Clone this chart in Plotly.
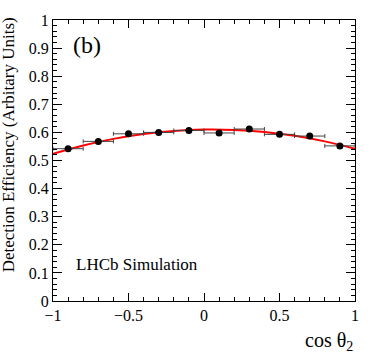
import plotly.graph_objects as go

# Data
bin_centers = [-0.9, -0.7, -0.5, -0.3, -0.1, 0.1, 0.3, 0.5, 0.7, 0.9]
efficiency = [0.542, 0.568, 0.595, 0.600, 0.607, 0.598, 0.612, 0.593, 0.587, 0.552]
x_err = [0.1] * 10
y_err = [0.004] * 10

fit_x = [-1.0, -0.8, -0.6, -0.4, -0.2, 0.0, 0.2, 0.4, 0.6, 0.8, 1.0]
fit_y = [0.524, 0.5535, 0.577, 0.594, 0.605, 0.610, 0.6087, 0.6013, 0.5877, 0.568, 0.542]

x_ticks = [-1, -0.5, 0, 0.5, 1]
x_tick_labels = ["\u22121", "\u22120.5", "0", "0.5", "1"]
y_ticks = [0, 0.1, 0.2, 0.3, 0.4, 0.5, 0.6, 0.7, 0.8, 0.9, 1]
y_tick_labels = ["0", "0.1", "0.2", "0.3", "0.4", "0.5", "0.6", "0.7", "0.8", "0.9", "1"]

FONT = "Liberation Serif"

fig = go.Figure()
fig.add_trace(go.Scatter(
    x=fit_x, y=fit_y, mode="lines", line=dict(color="red", width=2, shape="spline"),
    showlegend=False, hoverinfo="skip"))
fig.add_trace(go.Scatter(
    x=bin_centers, y=efficiency, mode="markers",
    marker=dict(color="black", size=7),
    error_x=dict(type="data", array=x_err, color="#444444", thickness=1, width=2),
    error_y=dict(type="data", array=y_err, color="#444444", thickness=1, width=0),
    showlegend=False))

axis_common = dict(
    showgrid=False, zeroline=False, showline=True, linecolor="black", linewidth=1,
    mirror="allticks", ticks="inside", tickcolor="black",
    tickfont=dict(family=FONT, size=16, color="black"),
)
fig.update_xaxes(range=[-1, 1], tickvals=x_ticks, ticktext=x_tick_labels, ticklen=8,
                 minor=dict(dtick=0.1, tick0=0, ticks="inside", ticklen=4, tickcolor="black"),
                 **axis_common)
fig.update_yaxes(range=[0, 1], tickvals=y_ticks, ticktext=y_tick_labels, ticklen=9,
                 minor=dict(dtick=0.02, tick0=0, ticks="inside", ticklen=4, tickcolor="black"),
                 **axis_common)

fig.add_annotation(text="Detection Efficiency (Arbitary Units)", textangle=-90,
                   xref="paper", yref="paper", x=-0.146, y=1.018, xanchor="center", yanchor="top",
                   showarrow=False, font=dict(family=FONT, size=17, color="black"))
fig.add_annotation(text="cos \u03b8<sub>2</sub>", xref="paper", yref="paper", x=1.0, y=-0.145,
                   xanchor="right", yanchor="middle", showarrow=False,
                   font=dict(family=FONT, size=20, color="black"))
fig.add_annotation(text="(b)", xref="paper", yref="paper", x=0.06, y=0.91,
                   xanchor="left", yanchor="middle", showarrow=False,
                   font=dict(family=FONT, size=24, color="black"))
fig.add_annotation(text="LHCb Simulation", xref="paper", yref="paper", x=0.07, y=0.13,
                   xanchor="left", yanchor="middle", showarrow=False,
                   font=dict(family=FONT, size=17, color="black"))

fig.update_layout(width=374, height=359, margin=dict(l=53, r=19, t=18, b=58),
                  plot_bgcolor="white", paper_bgcolor="white")
fig.write_html("out.html", post_script="document.body.style.margin='0';",
               config={"displayModeBar": False})
